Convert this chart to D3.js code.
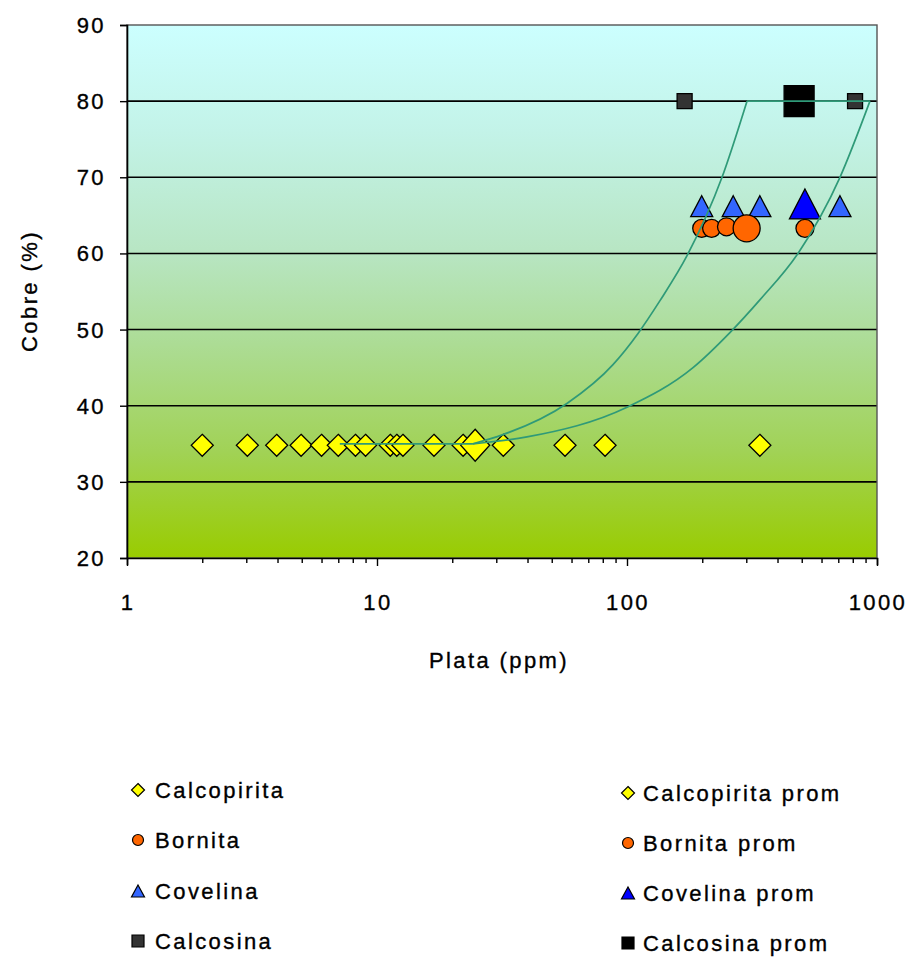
<!DOCTYPE html>
<html>
<head>
<meta charset="utf-8">
<script src="https://cdn.jsdelivr.net/npm/d3@7"></script>
<style>
  html, body { margin: 0; padding: 0; background: #ffffff; }
  svg { display: block; }
  text { font-family: "Liberation Sans", Arial, sans-serif; fill: #000; stroke: #000; stroke-width: 0.35px; }
</style>
</head>
<body>
<svg id="chart" width="912" height="960"></svg>
<script>
// ---- data ----
const calcopiritaX = [2.0, 3.03, 3.97, 4.97, 6.0, 7.0, 8.2, 9.0, 11.3, 12.0, 12.7, 16.9, 22.1, 32, 56.5, 81.7, 340];
const calcopiritaY = [34.8, 34.8, 34.8, 34.8, 34.8, 34.8, 34.8, 34.8, 34.8, 34.8, 34.8, 34.8, 34.8, 34.8, 34.8, 34.8, 34.8];
const borniteX = [199, 218, 250, 515];
const borniteY = [63.3, 63.3, 63.5, 63.3];
const covelinaX = [199, 266, 340, 711];
const covelinaY = [66.2, 66.2, 66.2, 66.2];
const calcosinaX = [170, 817];
const calcosinaY = [80, 80];

const calcopiritaPromX = [24.7];
const calcopiritaPromY = [34.8];
const bornitaPromX = [301];
const bornitaPromY = [63.3];
const covelinaPromX = [515];
const covelinaPromY = [66.5];
const calcosinaPromX = [488];
const calcosinaPromY = [80];

// guide lines (field envelope)
const guideBaseX = [7.1, 24.2];
const guideBaseY = [35, 35];
const guideUpperX = [24.2, 31.9, 57.5, 87.9, 110.7, 135.5, 173.8, 239.9, 302];
const guideUpperY = [35, 36.2, 40.3, 45.4, 49.5, 53.8, 59.7, 70, 80];
const guideTopX = [302, 937];
const guideTopY = [80, 80];
const guideLowerX = [24.2, 39.8, 100, 183.7, 258, 340, 483, 711, 937];
const guideLowerY = [35, 35.9, 39.8, 45.0, 49.6, 53.9, 60, 70, 80];

const xTickLabels = ["1", "10", "100", "1000"];
const yTickValues = [20, 30, 40, 50, 60, 70, 80, 90];
const legendLeft = ["Calcopirita", "Bornita", "Covelina", "Calcosina"];
const legendRight = ["Calcopirita prom", "Bornita prom", "Covelina prom", "Calcosina prom"];

// ---- layout ----
const svg = d3.select("#chart");
const L = 127, R = 877, T = 25, B = 558;
const x = d3.scaleLog().domain([1, 1000]).range([L, R]);
const y = d3.scaleLinear().domain([20, 90]).range([B, T]);
const FONT = 22, LS = "2.4px";

// background gradient
const defs = svg.append("defs");
const grad = defs.append("linearGradient").attr("id", "bg")
  .attr("x1", 0).attr("y1", 0).attr("x2", 0).attr("y2", 1);
[[0, "#ccffff"], [0.2, "#c3f3e8"], [0.42, "#b8e6c4"], [0.6, "#acdc94"], [0.8, "#a1d256"], [1, "#99cc00"]]
  .forEach(([o, c]) => grad.append("stop").attr("offset", o).attr("stop-color", c));

svg.append("rect").attr("x", L).attr("y", T).attr("width", R - L).attr("height", B - T)
  .attr("fill", "url(#bg)");

// gridlines
svg.append("g").selectAll("line").data(yTickValues.filter(v => v > 20 && v < 90)).join("line")
  .attr("x1", L).attr("x2", R).attr("y1", d => y(d)).attr("y2", d => y(d))
  .attr("stroke", "#000").attr("stroke-width", 1.6);

// plot frame
svg.append("rect").attr("x", L).attr("y", T).attr("width", R - L).attr("height", B - T)
  .attr("fill", "none").attr("stroke", "#555").attr("stroke-width", 1.4);

// axes
const xTicks = [];
[1, 10, 100].forEach(d => { for (let k = 1; k < 10; k++) xTicks.push(d * k); });
xTicks.push(1000);
const isMajor = v => Math.abs(Math.log10(v) - Math.round(Math.log10(v))) < 1e-9;

const xAxis = svg.append("g").attr("transform", `translate(0,${B})`)
  .call(d3.axisBottom(x).tickValues(xTicks).tickSize(7).tickFormat(() => ""));
xAxis.select(".domain").attr("stroke", "#000").attr("stroke-width", 1.6);
xAxis.selectAll(".tick line").attr("stroke", "#000").attr("stroke-width", 1.4)
  .attr("y2", d => isMajor(d) ? 8 : 5);
xAxis.selectAll(".tick text").remove();

svg.append("g").selectAll("text").data(xTicks.filter(isMajor)).join("text")
  .attr("x", d => x(d) + 1).attr("y", 610).attr("text-anchor", "middle")
  .attr("font-size", FONT).style("letter-spacing", LS)
  .text((d, i) => xTickLabels[i]);

const yAxis = svg.append("g").attr("transform", `translate(${L},0)`)
  .call(d3.axisLeft(y).tickValues(yTickValues).tickSize(7).tickFormat(() => ""));
yAxis.select(".domain").attr("stroke", "#000").attr("stroke-width", 1.6);
yAxis.selectAll(".tick line").attr("stroke", "#000").attr("stroke-width", 1.4);
yAxis.selectAll(".tick text").remove();

svg.append("g").selectAll("text").data(yTickValues).join("text")
  .attr("x", 106).attr("y", d => y(d) + 8).attr("text-anchor", "end")
  .attr("font-size", FONT).style("letter-spacing", LS)
  .text(d => d);

// axis titles
svg.append("text").attr("x", 499).attr("y", 668).attr("text-anchor", "middle")
  .attr("font-size", FONT).style("letter-spacing", LS).text("Plata (ppm)");
svg.append("text").attr("transform", "translate(37,291) rotate(-90)").attr("text-anchor", "middle")
  .attr("font-size", FONT).style("letter-spacing", LS).text("Cobre (%)");

// ---- marker shapes ----
function shape(kind, w, h) {
  const a = w / 2, b = h / 2;
  if (kind === "diamond") return `M0,${-b}L${a},0L0,${b}L${-a},0Z`;
  if (kind === "square") return `M${-a},${-b}H${a}V${b}H${-a}Z`;
  if (kind === "triangle") return `M0,${-b}L${a},${b}L${-a},${b}Z`;
  return d3.arc()({ innerRadius: 0, outerRadius: a, startAngle: 0, endAngle: 2 * Math.PI });
}

const series = [
  { xs: calcopiritaX, ys: calcopiritaY, kind: "diamond", w: 22, h: 22, fill: "#ffff00" },
  { xs: borniteX, ys: borniteY, kind: "circle", w: 18, h: 18, fill: "#ff6600" },
  { xs: covelinaX, ys: covelinaY, kind: "triangle", w: 22, h: 21, fill: "#3366ff" },
  { xs: calcosinaX, ys: calcosinaY, kind: "square", w: 15, h: 15, fill: "#333333" },
  { xs: calcopiritaPromX, ys: calcopiritaPromY, kind: "diamond", w: 29, h: 32, fill: "#ffff00" },
  { xs: bornitaPromX, ys: bornitaPromY, kind: "circle", w: 27, h: 27, fill: "#ff6600" },
  { xs: covelinaPromX, ys: covelinaPromY, kind: "triangle", w: 31, h: 30, fill: "#0000ff" },
  { xs: calcosinaPromX, ys: calcosinaPromY, kind: "square", w: 30, h: 31, fill: "#000000" }
];

const marks = svg.append("g");
series.forEach(s => {
  marks.append("g").selectAll("path").data(s.xs.map((v, i) => [v, s.ys[i]])).join("path")
    .attr("transform", d => `translate(${x(d[0])},${y(d[1])})`)
    .attr("d", shape(s.kind, s.w, s.h))
    .attr("fill", s.fill).attr("stroke", "#000").attr("stroke-width", 1.3);
});

// ---- guide lines (drawn over markers) ----
const guideColor = "#2f9a78";
const lineLin = d3.line().x(d => x(d[0])).y(d => y(d[1]));
const lineCurve = d3.line().x(d => x(d[0])).y(d => y(d[1])).curve(d3.curveMonotoneX);
const zip = (a, b) => a.map((v, i) => [v, b[i]]);
const guides = svg.append("g").attr("fill", "none").attr("stroke", guideColor).attr("stroke-width", 1.7);
guides.append("path").attr("d", lineLin(zip(guideBaseX, guideBaseY)));
guides.append("path").attr("d", lineCurve(zip(guideUpperX, guideUpperY)));
guides.append("path").attr("d", lineLin(zip(guideTopX, guideTopY)));
guides.append("path").attr("d", lineCurve(zip(guideLowerX, guideLowerY)));

// ---- legend ----
const legendKinds = [["diamond", 13, 13], ["circle", 11, 11], ["triangle", 13, 12], ["square", 12, 12]];
const leftFills = ["#ffff00", "#ff6600", "#3366ff", "#333333"];
const rightFills = ["#ffff00", "#ff6600", "#0000ff", "#000000"];
const rowYLeft = [790, 840, 891, 941];
const rowYRight = [793, 843, 893, 943];

function legendColumn(names, fills, mx, tx, rows) {
  const g = svg.append("g");
  names.forEach((n, i) => {
    const [k, w, h] = legendKinds[i];
    g.append("path").attr("transform", `translate(${mx},${rows[i]})`)
      .attr("d", shape(k, w, h)).attr("fill", fills[i]).attr("stroke", "#000").attr("stroke-width", 1.2);
    g.append("text").attr("x", tx).attr("y", rows[i] + 8)
      .attr("font-size", FONT).style("letter-spacing", LS).text(n);
  });
}
legendColumn(legendLeft, leftFills, 138, 155, rowYLeft);
legendColumn(legendRight, rightFills, 628, 643, rowYRight);
</script>
</body>
</html>
